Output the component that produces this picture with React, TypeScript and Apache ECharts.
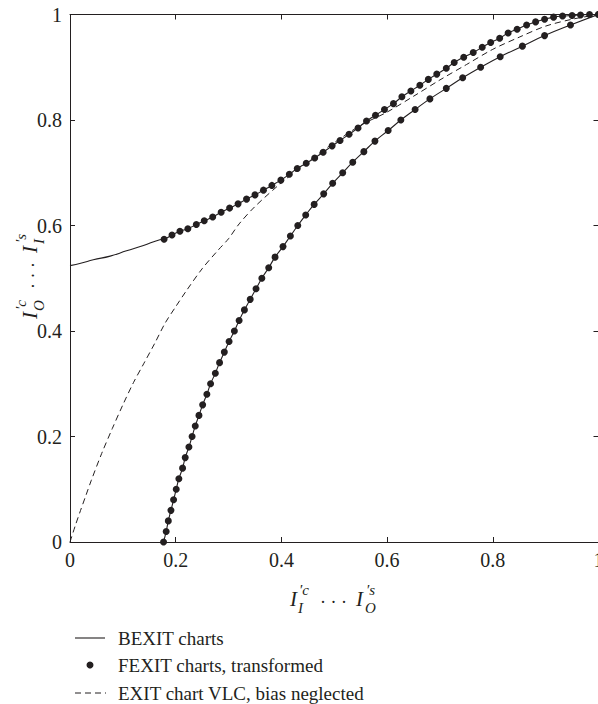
import React, { useEffect, useRef } from "react";
import * as echarts from "echarts";

// Upper BEXIT curve before the transformed FEXIT dots begin
const upperBexitPrefixX = [0, 0.022, 0.044, 0.076, 0.107, 0.139, 0.17];
const upperBexitPrefixY = [0.524, 0.529, 0.535, 0.542, 0.552, 0.562, 0.573];

// Upper curve dots (FEXIT transformed, also on BEXIT line)
const upperDotsX = [
  0.178, 0.193, 0.208, 0.223, 0.239, 0.254, 0.27, 0.286, 0.302, 0.318,
  0.334, 0.35, 0.366, 0.382, 0.399, 0.415, 0.43, 0.447, 0.463, 0.479,
  0.496, 0.511, 0.528, 0.545, 0.561, 0.578, 0.595, 0.612, 0.628, 0.645,
  0.662, 0.678, 0.694, 0.712, 0.727, 0.745, 0.763, 0.78, 0.796, 0.813,
  0.829, 0.846, 0.864, 0.881, 0.898, 0.915, 0.932, 0.95, 0.966, 0.983, 1.0,
];
const upperDotsY = [
  0.574, 0.582, 0.589, 0.594, 0.602, 0.609, 0.616, 0.625, 0.633, 0.641,
  0.65, 0.658, 0.667, 0.676, 0.686, 0.697, 0.708, 0.718, 0.728, 0.739,
  0.751, 0.761, 0.773, 0.785, 0.798, 0.809, 0.82, 0.831, 0.844, 0.855,
  0.866, 0.877, 0.887, 0.898, 0.909, 0.919, 0.928, 0.938, 0.947, 0.955,
  0.965, 0.972, 0.98, 0.986, 0.991, 0.995, 0.997, 0.998, 0.999, 1.0, 1.0,
];

// Lower curve dots
const lowerDotsX = [
  0.177, 0.182, 0.186, 0.191, 0.196, 0.201, 0.206, 0.213, 0.218, 0.225,
  0.231, 0.237, 0.244, 0.251, 0.259, 0.266, 0.275, 0.283, 0.292, 0.301,
  0.311, 0.32, 0.33, 0.341, 0.352, 0.363, 0.376, 0.388, 0.403, 0.417,
  0.431, 0.446, 0.462, 0.48, 0.497, 0.516, 0.535, 0.556, 0.577, 0.602,
  0.626, 0.653, 0.681, 0.712, 0.743, 0.777, 0.814, 0.856, 0.898, 0.947, 1.0,
];
const lowerDotsY = [
  0, 0.02, 0.04, 0.06, 0.08, 0.1, 0.12, 0.14, 0.16, 0.18,
  0.2, 0.22, 0.24, 0.26, 0.28, 0.3, 0.32, 0.34, 0.36, 0.38,
  0.4, 0.42, 0.44, 0.46, 0.48, 0.5, 0.52, 0.54, 0.56, 0.58,
  0.6, 0.62, 0.64, 0.66, 0.68, 0.7, 0.72, 0.74, 0.76, 0.78,
  0.8, 0.82, 0.84, 0.86, 0.88, 0.9, 0.92, 0.94, 0.96, 0.98, 1.0,
];

// EXIT chart VLC, bias neglected (dashed)
const vlcX = [
  0, 0.01, 0.02, 0.03, 0.04, 0.06, 0.08, 0.1, 0.12, 0.14, 0.16, 0.18, 0.2,
  0.22, 0.25, 0.28, 0.3, 0.32, 0.35, 0.4, 0.45, 0.5, 0.55, 0.6, 0.65, 0.7,
  0.75, 0.8, 0.85, 0.9, 0.95, 1.0,
];
const vlcY = [
  0, 0.031, 0.06, 0.088, 0.116, 0.168, 0.215, 0.26, 0.302, 0.339, 0.376,
  0.415, 0.446, 0.476, 0.518, 0.553, 0.575, 0.603, 0.636, 0.681, 0.721,
  0.757, 0.79, 0.815, 0.845, 0.876, 0.905, 0.934, 0.957, 0.978, 0.991, 1.0,
];

const tickValues = ["0", "0.2", "0.4", "0.6", "0.8", "1"];
const legendNames = [
  "BEXIT charts",
  "FEXIT charts, transformed",
  "EXIT chart VLC, bias neglected",
];

const INK = "#231f20";
const SERIF = "'Liberation Serif', 'DejaVu Serif', serif";

const zip = (xs: number[], ys: number[]) => xs.map((x, i) => [x, ys[i]]);

function titleParts(first: string, sup1: string, sub1: string, sup2: string, sub2: string, ox: number, oy: number) {
  const big = `italic 21px ${SERIF}`;
  const small = `italic 15px ${SERIF}`;
  const mk = (text: string, x: number, y: number, font: string) => ({
    type: "text",
    x: ox + x,
    y: oy + y,
    style: { text, font, fill: INK, align: "left", verticalAlign: "middle" },
  });
  return [
    mk(first, 0, 0, big),
    mk(sup1, 9, -9, small),
    mk(sub1, 8, 9, small),
    { type: "text", x: ox + 30, y: oy + 3, style: { text: "· · ·", font: `18px ${SERIF}`, fill: INK, align: "left", verticalAlign: "middle" } },
    mk(first, 66, 0, big),
    mk(sup2, 76, -9, small),
    mk(sub2, 75, 9, small),
  ];
}

function legendGraphic() {
  const rows = [638, 665, 693];
  const textStyle = (t: string) => ({ text: t, font: `19px ${SERIF}`, fill: INK, align: "left", verticalAlign: "middle" });
  return [
    { type: "line", shape: { x1: 75, y1: rows[0], x2: 105, y2: rows[0] }, style: { stroke: INK, lineWidth: 1.1 } },
    { type: "text", x: 118, y: rows[0], style: textStyle(legendNames[0]) },
    { type: "circle", shape: { cx: 90, cy: rows[1], r: 3.5 }, style: { fill: INK } },
    { type: "text", x: 118, y: rows[1], style: textStyle(legendNames[1]) },
    { type: "line", shape: { x1: 75, y1: rows[2], x2: 106, y2: rows[2] }, style: { stroke: INK, lineWidth: 1, lineDash: [6, 4] } },
    { type: "text", x: 118, y: rows[2], style: textStyle(legendNames[2]) },
  ];
}

export default function App() {
  const ref = useRef<HTMLDivElement>(null);
  useEffect(() => {
    if (!ref.current) return;
    const chart = echarts.init(ref.current, undefined, { renderer: "svg" });
    const axisCommon = {
      type: "value",
      min: 0,
      max: 1,
      interval: 0.2,
      axisLine: { show: true, onZero: false, lineStyle: { color: INK, width: 1 } },
      axisTick: { show: true, inside: true, length: 5, lineStyle: { color: INK, width: 1 } },
      splitLine: { show: false },
    };
    const labelStyle = {
      fontFamily: SERIF,
      fontSize: 20,
      color: INK,
      formatter: (v: number) => tickValues[Math.round(v * 5)],
    };
    chart.setOption({
      animation: false,
      grid: {
        left: 70,
        top: 14.5,
        width: 528.5,
        height: 527.5,
        containLabel: false,
        outerBoundsMode: "none",
      },
      xAxis: [
        { ...axisCommon, position: "bottom", axisLabel: { ...labelStyle, margin: 8 } },
        { ...axisCommon, position: "top", axisLabel: { show: false } },
      ],
      yAxis: [
        { ...axisCommon, position: "left", axisLabel: { ...labelStyle, margin: 8 } },
        {
          ...axisCommon,
          position: "right",
          axisLine: { show: false, onZero: false },
          axisLabel: { show: false },
        },
      ],
      series: [
        {
          name: legendNames[2],
          type: "line",
          data: zip(vlcX, vlcY),
          symbol: "none",
          smooth: 0.3,
          lineStyle: { color: INK, width: 1, type: [6, 4] },
          itemStyle: { color: INK },
          z: 1,
        },
        {
          name: legendNames[0],
          type: "line",
          data: zip(upperBexitPrefixX.concat(upperDotsX), upperBexitPrefixY.concat(upperDotsY)),
          symbol: "none",
          smooth: 0.5,
          lineStyle: { color: INK, width: 1.1 },
          itemStyle: { color: INK },
          z: 2,
        },
        {
          name: legendNames[0],
          type: "line",
          data: zip(lowerDotsX, lowerDotsY),
          symbol: "none",
          smooth: 0.5,
          lineStyle: { color: INK, width: 1.1 },
          itemStyle: { color: INK },
          z: 2,
        },
        {
          name: legendNames[1],
          type: "scatter",
          data: zip(upperDotsX, upperDotsY),
          symbol: "circle",
          symbolSize: 7,
          itemStyle: { color: INK, opacity: 1 },
          z: 3,
        },
        {
          name: legendNames[1],
          type: "scatter",
          data: zip(lowerDotsX, lowerDotsY),
          symbol: "circle",
          symbolSize: 7,
          itemStyle: { color: INK, opacity: 1 },
          z: 3,
        },
      ],
      graphic: [
        { type: "group", children: titleParts("I", "′c", "I", "′s", "O", 290, 599) },
        {
          type: "group",
          x: 30,
          y: 276,
          rotation: Math.PI / 2,
          children: titleParts("I", "′c", "O", "′s", "I", -43, 0),
        },
        { type: "group", children: legendGraphic() },
      ],
    });
    return () => chart.dispose();
  }, []);
  return (
    <div
      ref={ref}
      style={{ position: "absolute", left: 0, top: 0, width: 598, height: 704, background: "#fff" }}
    />
  );
}
